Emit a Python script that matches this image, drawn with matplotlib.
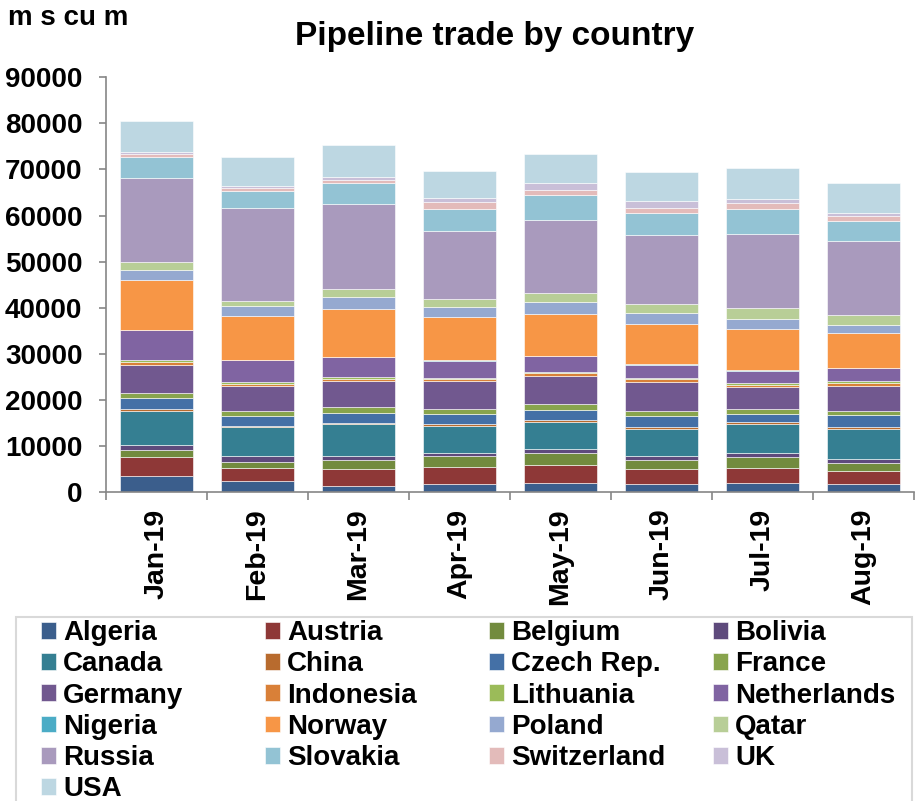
import numpy as np
import matplotlib
matplotlib.use("Agg")
import matplotlib.pyplot as plt
from matplotlib.patches import Rectangle

plt.rcParams['font.family'] = ['Liberation Sans', 'DejaVu Sans']
plt.rcParams['font.weight'] = 'bold'

meses = ["Jan-19", "Feb-19", "Mar-19", "Apr-19", "May-19", "Jun-19", "Jul-19", "Aug-19"]

paises = ["Algeria", "Austria", "Belgium", "Bolivia", "Canada", "China", "Czech Rep.",
          "France", "Germany", "Indonesia", "Lithuania", "Netherlands", "Nigeria",
          "Norway", "Poland", "Qatar", "Russia", "Slovakia", "Switzerland", "UK", "USA"]

# valores en millones de m3
algeria     = [3500, 2400, 1400, 1750, 1900, 1650, 1900, 1750]
austria     = [4200, 2750, 3550, 3750, 3900, 3250, 3400, 2700]
belgium     = [1500, 1450, 2100, 2250, 2600, 2150, 2300, 1950]
bolivia     = [1000, 1150, 700, 650, 850, 850, 800, 700]
canada      = [7400, 6300, 6900, 6000, 6000, 5800, 6450, 6600]
china       = [360, 350, 350, 300, 350, 350, 350, 350]
czech       = [2500, 2000, 2100, 2250, 2250, 2450, 1800, 2700]
france      = [1000, 1150, 1300, 1100, 1150, 1000, 1000, 850]
germany     = [6100, 5350, 5600, 5950, 6200, 6350, 4700, 5450]
indonesia   = [650, 600, 600, 450, 600, 600, 600, 650]
lithuania   = [400, 350, 350, 350, 300, 300, 350, 350]
netherlands = [6500, 4700, 4350, 3700, 3400, 2900, 2700, 2800]
nigeria     = [100, 50, 50, 50, 50, 50, 50, 50]
norway      = [10700, 9500, 10400, 9500, 9050, 8750, 9050, 7550]
poland      = [2300, 2250, 2500, 2100, 2700, 2450, 2200, 1750]
qatar       = [1800, 1200, 1800, 1750, 1950, 2000, 2300, 2150]
russia      = [18100, 20000, 18400, 14800, 15800, 14900, 16000, 16100]
slovakia    = [4550, 3800, 4550, 4800, 5300, 4800, 5400, 4400]
switzerland = [800, 650, 800, 1400, 1200, 1100, 1450, 1100]
uk          = [300, 350, 500, 800, 1450, 1450, 700, 500]
usa         = [6700, 6400, 6950, 6000, 6400, 6200, 6800, 6650]

series = [algeria, austria, belgium, bolivia, canada, china, czech, france, germany,
          indonesia, lithuania, netherlands, nigeria, norway, poland, qatar, russia,
          slovakia, switzerland, uk, usa]

colores = ["#3B5E8C", "#8E3837", "#728B3E", "#5E4A7C", "#357F92", "#B86B2E", "#4470A6",
           "#88A44D", "#71588F", "#D98038", "#9BBB59", "#8064A2", "#4BACC6", "#F79646",
           "#95A9D0", "#B8CE97", "#A99ABD", "#93C3D4", "#E3BBBA", "#C9BFD8", "#BDD7E2"]

W, H = 922, 801
fig = plt.figure(figsize=(W/100, H/100), dpi=100)
ax = fig.add_axes([106/W, 1-492/H, (914-106)/W, (492-77.3)/H])

x = np.arange(len(meses))
base = np.zeros(len(meses))
barras = []
for nombre, valores, color in zip(paises, series, colores):
    b = ax.bar(x, valores, bottom=base, width=0.72, color=color,
               edgecolor="white", linewidth=0.4, label=nombre)
    barras.append(b)
    base += np.array(valores)

ax.set_xlim(-0.5, len(meses) - 0.5)
ax.set_ylim(0, 90000)
ax.set_yticks(np.arange(0, 90001, 10000))
ax.tick_params(axis='y', labelsize=20, length=5, width=1.2, color="#868686", pad=12)

ax.set_xticks(x)
ax.set_xticklabels(meses, rotation=90, fontsize=20.5, fontweight='bold')
ax.tick_params(axis='x', which='major', length=0, pad=12)
ax.set_xticks(np.arange(-0.5, len(meses), 1), minor=True)
ax.tick_params(axis='x', which='minor', length=6, width=1.2, color="#868686")

for lado in ['top', 'right']:
    ax.spines[lado].set_visible(False)
for lado in ['left', 'bottom']:
    ax.spines[lado].set_color("#868686")
    ax.spines[lado].set_linewidth(1.2)

fig.text(495/W, 1-37/H, "Pipeline trade by country", ha='center', va='center',
         fontsize=24, fontweight='bold')
fig.text(8/W, 1-18/H, "m s cu m", ha='left', va='center', fontsize=20, fontweight='bold')

# marco de la leyenda (se sale por abajo como en el original)
fig.patches.append(Rectangle((16/W, -0.05), (912-16)/W, (1-617/H) + 0.05,
                             transform=fig.transFigure, facecolor='none',
                             edgecolor="#D9D9D9", linewidth=1.5))

# leyenda: el orden de Excel va por filas, se hace una leyenda por columna
ncol = 4
x_col = [41, 265, 489, 713]
for c in range(ncol):
    idx = list(range(c, len(paises), ncol))
    fig.legend([barras[i] for i in idx], [paises[i] for i in idx],
               loc='upper left', bbox_to_anchor=(x_col[c]/W, 1-620/H),
               bbox_transform=fig.transFigure,
               prop={'size': 20, 'weight': 'bold'}, frameon=False,
               handlelength=0.55, handleheight=0.55, handletextpad=0.25,
               labelspacing=0.19, borderaxespad=0, borderpad=0)

fig.savefig("out.png", dpi=100)
